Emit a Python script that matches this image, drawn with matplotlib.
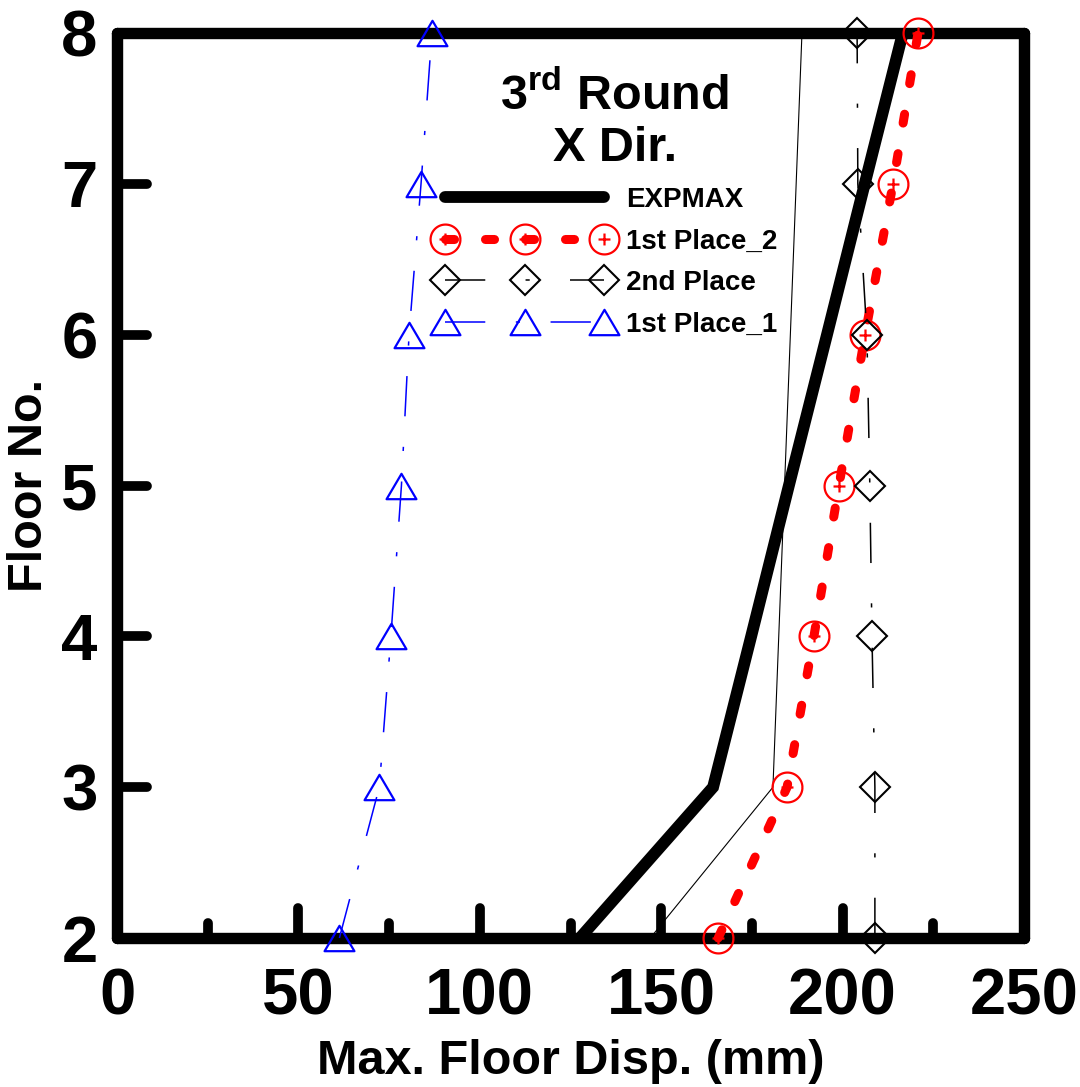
import matplotlib
matplotlib.use("Agg")
import matplotlib.pyplot as plt
import numpy as np
from matplotlib.path import Path
from matplotlib.legend_handler import HandlerTuple

plt.rcParams['font.family'] = ['Liberation Sans', 'DejaVu Sans']
plt.rcParams['font.weight'] = 'bold'
plt.rcParams['mathtext.fontset'] = 'custom'
plt.rcParams['mathtext.rm'] = 'Liberation Sans:bold'
plt.rcParams['mathtext.bf'] = 'Liberation Sans:bold'
plt.rcParams['lines.scale_dashes'] = False

# ---- data ----
floors = [2, 3, 4, 5, 6, 7, 8]
expmax = [127.6, 164.3, 174.8, 185.2, 195.7, 206.1, 216.6]
first_place_2 = [165.7, 184.7, 192.1, 199.0, 206.2, 213.9, 220.8]
second_place = [208.9, 208.9, 208.1, 207.5, 206.7, 204.2, 204.0]
first_place_1 = [61.3, 72.3, 75.5, 78.4, 80.5, 83.8, 86.8]
thin_line = [147.0, 180.8, 182.4, 184.0, 185.6, 187.2, 188.8]

x_ticks = [0, 50, 100, 150, 200, 250]
x_minor = [25, 75, 125, 175, 225]
y_ticks = [2, 3, 4, 5, 6, 7, 8]

W, H = 1080, 1087
fig = plt.figure(figsize=(W / 100, H / 100), dpi=100)
L, R, T, B = 117, 1024, 33, 938
ax = fig.add_axes([L / W, 1 - B / H, (R - L) / W, (B - T) / H])
ax.set_xlim(0, 250)
ax.set_ylim(2, 8)

# custom marker: circle with plus
theta = np.linspace(0, 2 * np.pi, 64)
circ = Path(np.column_stack([np.cos(theta), np.sin(theta)]))
pl = 0.4
plus = Path([(-pl, 0), (pl, 0), (0, -pl), (0, pl)],
            [Path.MOVETO, Path.LINETO, Path.MOVETO, Path.LINETO])
circ_plus = Path.make_compound_path(circ, plus)

tri = Path([(0, 0.85), (-1, -0.85), (1, -0.85), (0, 0.85)],
           [Path.MOVETO, Path.LINETO, Path.LINETO, Path.CLOSEPOLY])

# thin black line (no legend)
ax.plot(thin_line, floors, color='black', lw=0.8, zorder=2)

h_exp, = ax.plot(expmax, floors, color='black', lw=8.5,
                 solid_capstyle='round', solid_joinstyle='miter', zorder=3)

h_red_m, = ax.plot(first_place_2, floors, linestyle='none', marker=circ_plus,
                   markersize=21.5, markerfacecolor='none',
                   markeredgecolor='#ff0000', markeredgewidth=1.6,
                   clip_on=False, zorder=3)
h_red_l, = ax.plot(first_place_2, floors, color='#ff0000', lw=6.5,
                   dash_capstyle='round', clip_on=False, zorder=3.1)
h_red_l.set_linestyle((0, (6.5, 22.3)))

h_2nd, = ax.plot(second_place, floors, color='black', lw=1.1,
                 marker='D', markersize=15, markerfacecolor='none',
                 markeredgecolor='black', markeredgewidth=1.5,
                 clip_on=False, zorder=3.2)
h_2nd.set_linestyle((0, (29, 29, 3, 29)))

h_1st1, = ax.plot(first_place_1, floors, color='#0000ff', lw=1.1,
                  marker=tri, markersize=21.5, markerfacecolor='none',
                  markeredgecolor='#0000ff', markeredgewidth=1.6,
                  clip_on=False, zorder=3.3)
h_1st1.set_linestyle((0, (29, 22, 3, 22)))

# spines
for s in ax.spines.values():
    s.set_linewidth(8.2)
    s.set_capstyle('round')
    s.set_zorder(2.5)

# ticks drawn as round-capped lines
ax.tick_params(axis='both', length=0, labelsize=47)
ax.tick_params(axis='x', pad=21)
ax.tick_params(axis='y', pad=14)
ax.set_xticks(x_ticks)
ax.set_yticks(y_ticks)
xt = ax.get_xaxis_transform()
yt = ax.get_yaxis_transform()
for xv in x_ticks[1:-1]:
    ax.plot([xv, xv], [0, 0.033], transform=xt, color='black', lw=7,
            solid_capstyle='round', clip_on=False, zorder=2.6)
for xv in x_minor:
    ax.plot([xv, xv], [0, 0.0166], transform=xt, color='black', lw=7,
            solid_capstyle='round', clip_on=False, zorder=2.6)
for yv in y_ticks[1:-1]:
    ax.plot([0, 0.033], [yv, yv], transform=yt, color='black', lw=7,
            solid_capstyle='round', clip_on=False, zorder=2.6)

ax.set_xlabel('Max. Floor Disp. (mm)', fontsize=35, fontweight='bold')
ax.set_ylabel('Floor No.', fontsize=35, fontweight='bold')
ax.xaxis.set_label_coords(0.5, -0.112)
ax.yaxis.set_label_coords(-0.072, 0.5)

fig.text(615 / W, 1 - 110 / H, r'3$^{\mathbf{rd}}$ Round', ha='center',
         va='baseline', fontsize=35, fontweight='bold')
fig.text(615 / W, 1 - 161 / H, 'X Dir.', ha='center', va='baseline',
         fontsize=35, fontweight='bold')

leg = ax.legend([h_exp, (h_red_m, h_red_l), h_2nd, h_1st1],
                ['EXPMAX', '1st Place_2', '2nd Place', '1st Place_1'],
                handler_map={tuple: HandlerTuple(ndivide=1)},
                loc='upper left', bbox_to_anchor=(437 / W, 1 - 187 / H),
                bbox_transform=fig.transFigure, frameon=False,
                numpoints=3, handlelength=6.3, handletextpad=0.5,
                labelspacing=0.56, borderpad=0, borderaxespad=0,
                prop={'size': 20, 'weight': 'bold'})
leg.set_zorder(5)

fig.savefig('out.png', dpi=100)
